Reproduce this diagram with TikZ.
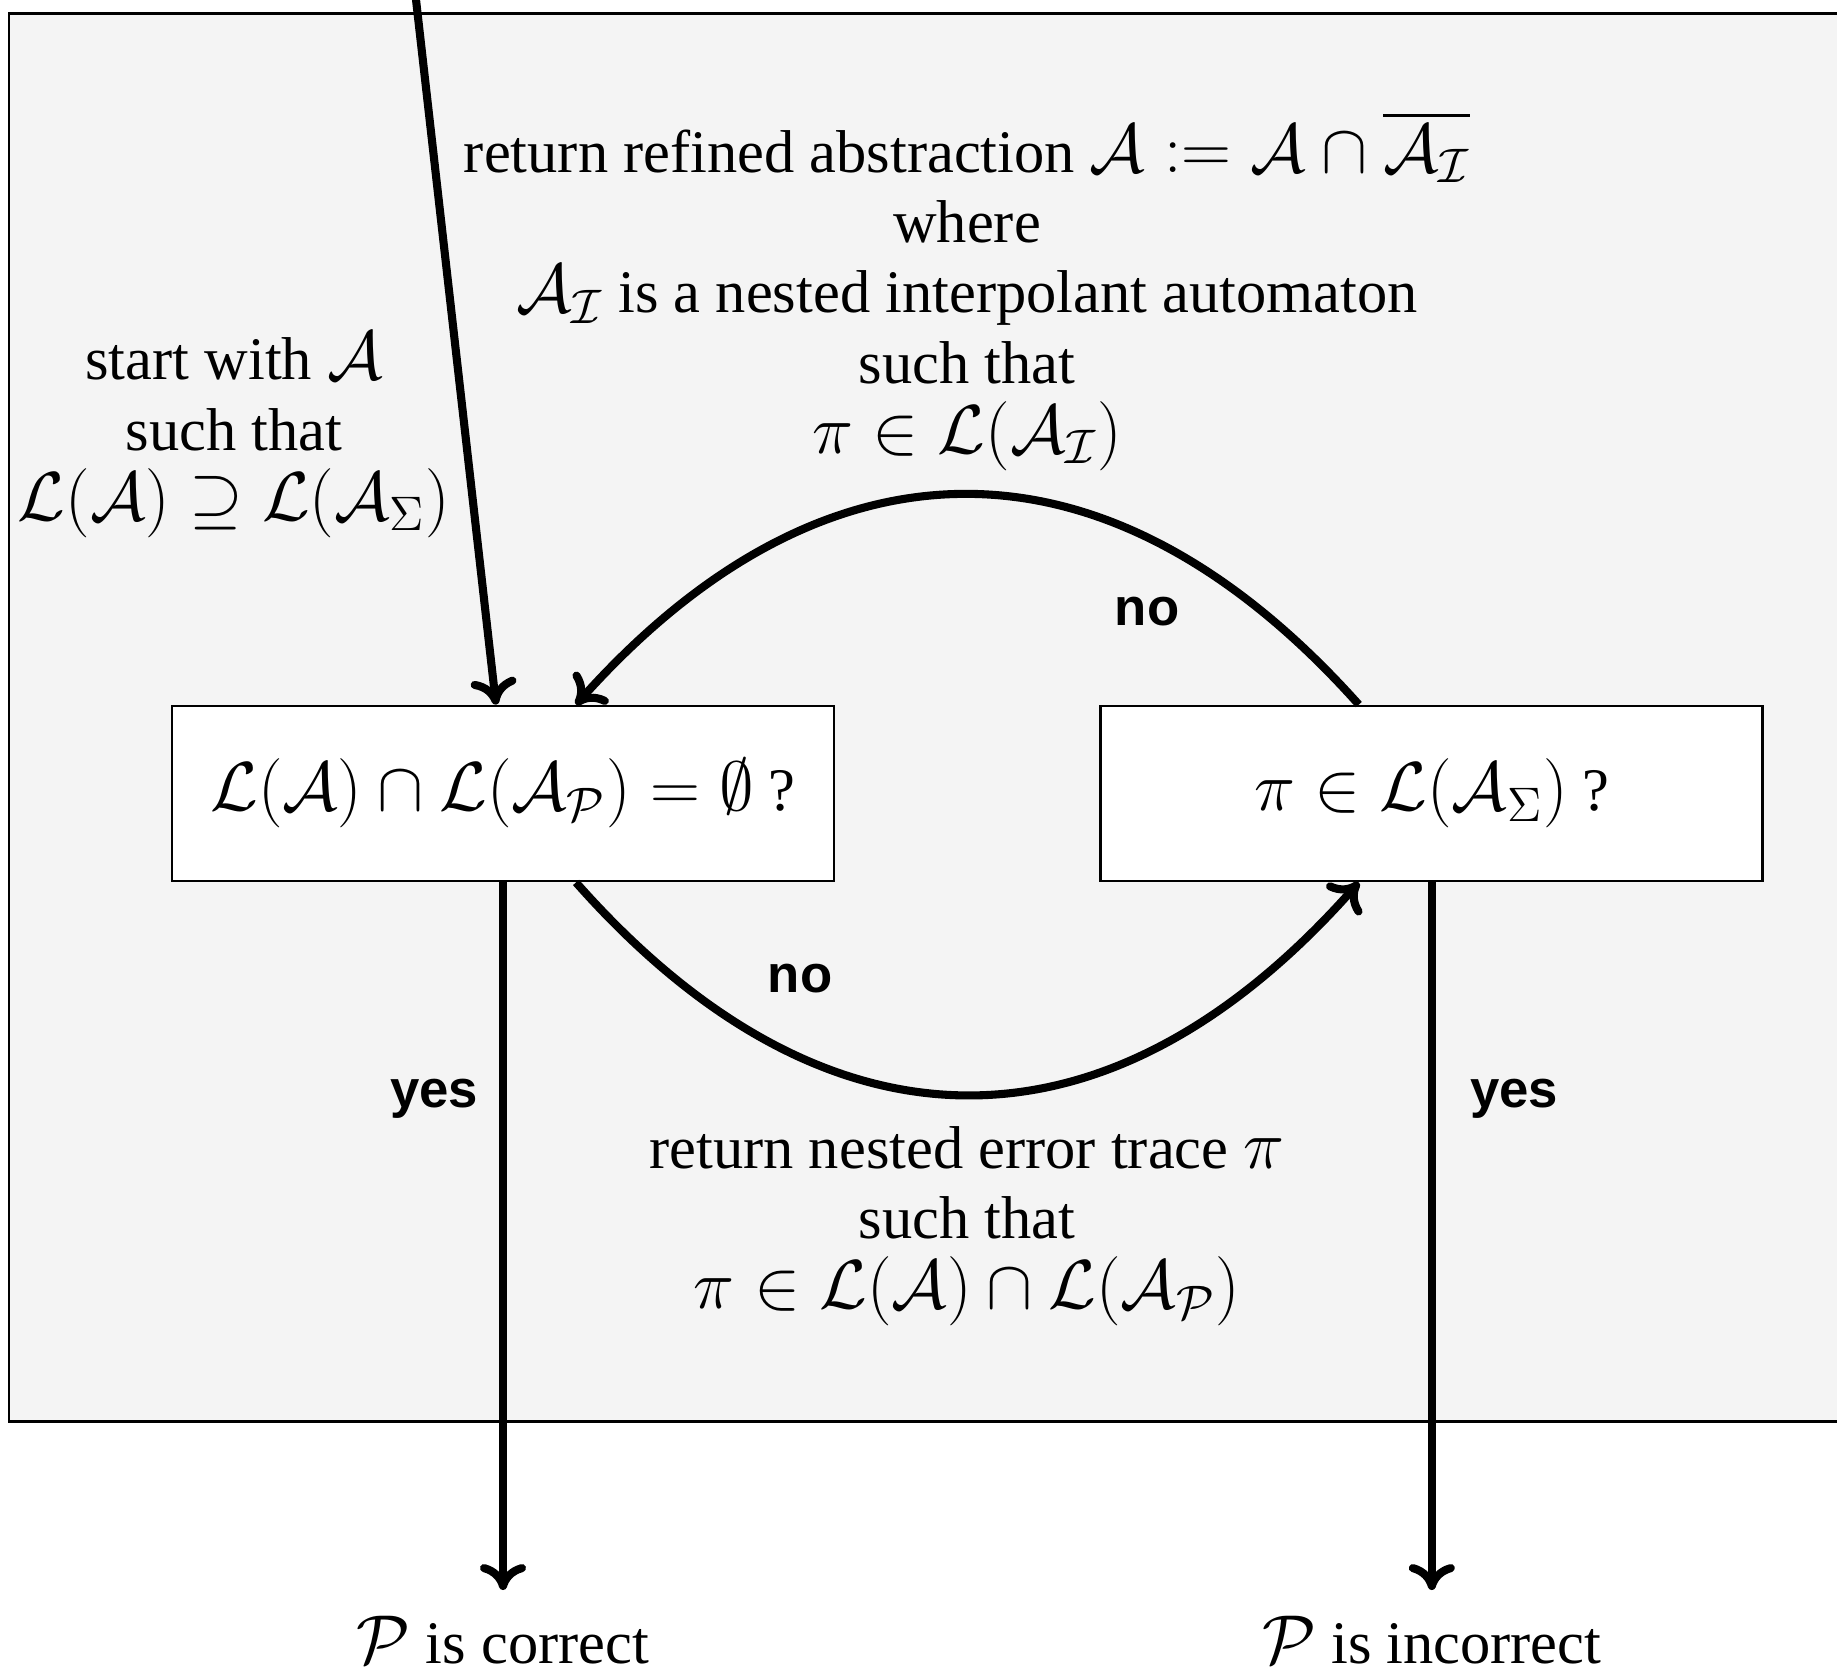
\RequirePackage{fix-cm}
\documentclass[tikz,border=0pt]{standalone}
\usepackage{amsmath, amssymb}
\usepackage[no-math]{fontspec}
\setmainfont{Liberation Serif}[Scale=0.873]
\newfontfamily\yesnofont{Liberation Sans}
\usepackage{tikz}
\usetikzlibrary{arrows.meta, positioning}
\definecolor{panel}{HTML}{F4F4F4}

\begin{document}
\begin{tikzpicture}[
  every node/.style={font=\fontsize{19.7}{20}\selectfont, align=center},
  box/.style={draw, line width=0.8pt, fill=white, minimum height=1.75cm,
              minimum width=6.62cm, inner sep=0pt},
  arr/.style={-{Computer Modern Rightarrow[length=2.6mm, width=4.6mm]},
              line width=2.3pt},
  answer/.style={font=\yesnofont\bfseries\fontsize{15}{18}\selectfont},
  verdict/.style={anchor=base, inner ysep=0.25cm}
]
  \clip (0,0) rectangle (18.37,-16.70);
  \draw[line width=0.85pt, fill=panel] (0.09,-0.13) rectangle (19,-14.21);

  \node[box] (empt) at (5.03,-7.935)
       {$\mathcal{L}(\mathcal{A}) \cap \mathcal{L}(\mathcal{A}_{\mathcal{P}}) = \emptyset$ ?};
  \node[box, right=2.64 of empt] (memb)
       {$\pi \in \mathcal{L}(\mathcal{A}_{\Sigma})$ ?};

  \node[verdict] (ok) at (empt.south |- 0,-16.63) {$\mathcal{P}$ is correct};
  \node[verdict] (bad) at (memb.south |- 0,-16.63) {$\mathcal{P}$ is incorrect};
  \coordinate (entry) at (4.115,0.4);

  % labels
  \node (refine) at (9.67,-2.91)
       {return refined abstraction $\mathcal{A} := \mathcal{A} \cap \overline{\mathcal{A}_{\mathcal{I}}}$\\
        where\\
        $\mathcal{A}_{\mathcal{I}}$ is a nested interpolant automaton\\
        such that\\
        $\pi \in \mathcal{L}(\mathcal{A}_{\mathcal{I}})$};
  \node (init) at (2.34,-4.35)
       {start with $\mathcal{A}$\\such that\\
        $\mathcal{L}(\mathcal{A}) \supseteq \mathcal{L}(\mathcal{A}_{\Sigma})$};
  \node (trace) at (9.67,-12.26)
       {return nested error trace $\pi$\\such that\\
        $\pi \in \mathcal{L}(\mathcal{A}) \cap \mathcal{L}(\mathcal{A}_{\mathcal{P}})$};
  \node[answer] at (4.34,-10.99) {yes};
  \node[answer] at (15.14,-10.99) {yes};
  \node[answer] at (11.47,-6.12) {no};
  \node[answer] at (8.00,-9.79) {no};

  \draw[arr] (entry) -- ([xshift=-0.07cm]empt.north);
  \draw[arr] (empt.south) -- (ok.north);
  \draw[arr] (memb.south) -- (bad.north);
  \draw[arr] ([xshift=-0.73cm]memb.north) .. controls +(-2.5,2.8) and +(2.5,2.8)
        .. ([xshift=0.73cm]empt.north);
  \draw[arr] ([xshift=0.73cm]empt.south) .. controls +(2.5,-2.83) and +(-2.5,-2.83)
        .. ([xshift=-0.73cm]memb.south);
\end{tikzpicture}
\end{document}
